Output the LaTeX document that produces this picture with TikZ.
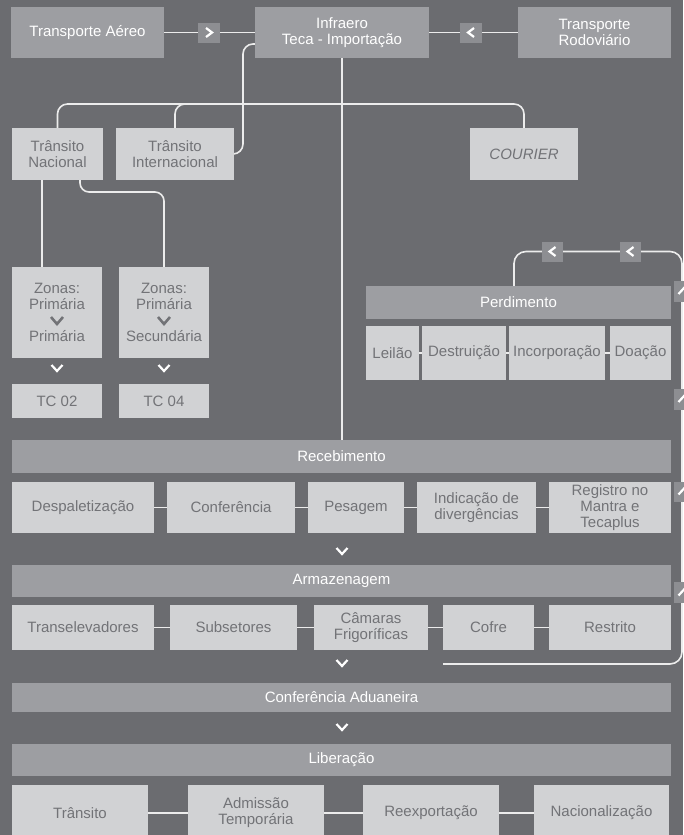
\documentclass[tikz,border=0pt]{standalone}
\usepackage{fontspec}
\setmainfont{Liberation Sans}
\usetikzlibrary{calc}
\definecolor{bgc}{HTML}{6B6C70}
\definecolor{darkc}{HTML}{9D9EA2}
\definecolor{lightc}{HTML}{D1D2D4}
\definecolor{arrc}{HTML}{8D8E92}
\definecolor{txtc}{HTML}{727377}
\definecolor{linec}{HTML}{ECECEC}
\pgfdeclarelayer{bglayer}
\pgfdeclarelayer{linelayer}
\pgfsetlayers{bglayer,linelayer,main}
\begin{document}
\begin{tikzpicture}[x=1pt,y=-1pt,
  every node/.style={inner sep=0pt, outer sep=0pt, align=center, font=\fontsize{15}{16}\selectfont},
  dbox/.style={fill=darkc, text=white},
  lbox/.style={fill=lightc, text=txtc},
  abox/.style={fill=arrc, minimum width=22pt, minimum height=20pt},
  conn/.style={draw=linec, line width=1.6pt},
  chevline/.style={draw=white, line width=2.2pt},
  gchev/.style={draw=txtc, line width=2.6pt},
  chevR/.pic={\draw[chevline] (-3,-4.5) -- (3,0) -- (-3,4.5);},
  chevL/.pic={\draw[chevline] (3,-4.5) -- (-3,0) -- (3,4.5);},
  chevD/.pic={\draw[chevline] (-5.5,-3) -- (0,3) -- (5.5,-3);},
  chevU/.pic={\draw[chevline] (-5.5,3) -- (0,-3) -- (5.5,3);}
]
\useasboundingbox (0,0) rectangle (683,835);
\begin{pgfonlayer}{bglayer}
\fill[bgc] (0,0) rectangle (683,835);
\end{pgfonlayer}

% top row
\node[dbox, minimum width=153pt, minimum height=51pt] (ta) at (87.5,32.5) {Transporte Aéreo};
\node[abox] (ab1) at (209,32.5) {};
\node[dbox, minimum width=174pt, minimum height=51pt] (inf) at (342,32.5) {Infraero\\Teca - Importação};
\node[abox] (ab2) at (471,32.5) {};
\node[dbox, minimum width=153pt, minimum height=51pt] (tr) at (594.5,32.5) {Transporte\\Rodoviário};
\pic at (ab1) {chevR};
\pic at (ab2) {chevL};

% transit row
\node[lbox, minimum width=91pt, minimum height=52pt] (tn) at (57.5,154) {Trânsito\\Nacional};
\node[lbox, minimum width=118pt, minimum height=52pt] (ti) at (175,154) {Trânsito\\Internacional};
\node[lbox, minimum width=108pt, minimum height=52pt] (cou) at (524,154) {\itshape COURIER};

% zonas
\node[lbox, minimum width=90pt, minimum height=91pt] (z1) at (57,312.5) {Zonas:\\Primária\\\strut\\Primária};
\node[lbox, minimum width=90pt, minimum height=91pt] (z2) at (164,312.5) {Zonas:\\Primária\\\strut\\Secundária};
\draw[gchev] ([shift={(-6,-3.5)}]z1.center) ++(0,8) -- ++(6,7) -- ++(6,-7);
\draw[gchev] ([shift={(-6,-3.5)}]z2.center) ++(0,8) -- ++(6,7) -- ++(6,-7);
\node[lbox, minimum width=90pt, minimum height=34pt] (tc2) at (57,401) {TC 02};
\node[lbox, minimum width=90pt, minimum height=34pt] (tc4) at (164,401) {TC 04};
\pic at (57,368) {chevD};
\pic at (164,368) {chevD};

% perdimento
\node[dbox, minimum width=305pt, minimum height=33pt] (perd) at (518.5,302.5) {Perdimento};
\node[lbox, minimum width=53pt, minimum height=54pt] (lei) at (392.5,353) {Leilão};
\node[lbox, minimum width=84pt, minimum height=54pt] (des) at (464,353) {Destruição};
\node[lbox, minimum width=96pt, minimum height=54pt] (inc) at (557,353) {Incorporação};
\node[lbox, minimum width=61pt, minimum height=54pt] (doa) at (640.5,353) {Doação};
\node[abox, minimum width=21pt] (pa1) at (552.5,251.5) {};
\node[abox, minimum width=21pt] (pa2) at (630.5,251.5) {};
\pic at (pa1) {chevL};
\pic at (pa2) {chevL};

% right edge arrow boxes
\node[abox, minimum width=20pt, minimum height=21pt] (ra1) at (684,291) {};
\node[abox, minimum width=20pt, minimum height=21pt] (ra2) at (684,399) {};
\node[abox, minimum width=20pt, minimum height=20pt] (ra3) at (684,491.5) {};
\node[abox, minimum width=20pt, minimum height=21pt] (ra4) at (684,592.5) {};
\pic at (ra1) {chevU};
\pic at (ra2) {chevU};
\pic at (ra3) {chevU};
\pic at (ra4) {chevU};

% recebimento
\node[dbox, minimum width=659pt, minimum height=33pt] (rec) at (341.5,456.5) {Recebimento};
\node[lbox, minimum width=142pt, minimum height=51pt] (desp) at (83,507.5) {Despaletização};
\node[lbox, minimum width=128pt, minimum height=51pt] (conf) at (231,507.5) {Conferência};
\node[lbox, minimum width=96pt, minimum height=51pt] (pes) at (356,507.5) {Pesagem};
\node[lbox, minimum width=119pt, minimum height=51pt] (ind) at (476.5,507.5) {Indicação de\\divergências};
\node[lbox, minimum width=122pt, minimum height=51pt] (reg) at (610,507.5) {Registro no\\Mantra e\\Tecaplus};
\pic at (342,551) {chevD};

% armazenagem
\node[dbox, minimum width=659pt, minimum height=32pt] (arm) at (341.5,581) {Armazenagem};
\node[lbox, minimum width=142pt, minimum height=45pt] (tse) at (83,627.5) {Transelevadores};
\node[lbox, minimum width=127pt, minimum height=45pt] (sub) at (233.5,627.5) {Subsetores};
\node[lbox, minimum width=114pt, minimum height=45pt] (cam) at (371,627.5) {Câmaras\\Frigoríficas};
\node[lbox, minimum width=91pt, minimum height=45pt] (cof) at (488.5,627.5) {Cofre};
\node[lbox, minimum width=122pt, minimum height=45pt] (res) at (610,627.5) {Restrito};
\pic at (342,663) {chevD};

% conferencia aduaneira / liberacao
\node[dbox, minimum width=659pt, minimum height=29pt] (ca) at (341.5,697.5) {Conferência Aduaneira};
\pic at (342,727) {chevD};
\node[dbox, minimum width=659pt, minimum height=32pt] (lib) at (341.5,760) {Liberação};
\node[lbox, minimum width=136pt, minimum height=56pt] (tra) at (80,813) {Trânsito};
\node[lbox, minimum width=136pt, minimum height=56pt] (adm) at (256,813) {Admissão\\Temporária};
\node[lbox, minimum width=136pt, minimum height=56pt] (ree) at (431,813) {Reexportação};
\node[lbox, minimum width=135pt, minimum height=56pt] (nac) at (601.5,813) {Nacionalização};

\begin{pgfonlayer}{linelayer}
\draw[conn] (ta) -- (ab1);
\draw[conn] (ab1) -- (inf);
\draw[conn] (inf) -- (ab2);
\draw[conn] (ab2) -- (tr);
\draw[conn] (inf.south) -- (inf.south |- rec.north);
\draw[conn, rounded corners=10pt] ([yshift=-11.5pt]inf.west) -| ([xshift=9pt]ti.east) -- (ti.east);
\coordinate (bus) at (342,104);
\draw[conn, rounded corners=10pt] (tn.north) |- (bus) -| (cou.north);
\draw[conn, rounded corners=10pt] (ti.north) |- (bus);
\draw[conn] ([xshift=-15.5pt]tn.south) -- ([xshift=-15pt]z1.north);
\draw[conn, rounded corners=9pt] ([xshift=22.5pt]tn.south) -- ++(0,12) -| (z2.north);
\coordinate (ltr) at (682,251.5);
\coordinate (lend) at (443,664);
\draw[conn, rounded corners=12pt] ([xshift=-4.5pt]perd.north) |- (ltr) |- (lend);
\draw[conn] (lei) -- (des);
\draw[conn] (des) -- (inc);
\draw[conn] (inc) -- (doa);
\draw[conn] (desp) -- (conf);
\draw[conn] (conf) -- (pes);
\draw[conn] (pes) -- (ind);
\draw[conn] (ind) -- (reg);
\draw[conn] (tse) -- (sub);
\draw[conn] (sub) -- (cam);
\draw[conn] (cam) -- (cof);
\draw[conn] (cof) -- (res);
\draw[conn] (tra) -- (adm);
\draw[conn] (adm) -- (ree);
\draw[conn] (ree) -- (nac);
\end{pgfonlayer}
\end{tikzpicture}
\end{document}
